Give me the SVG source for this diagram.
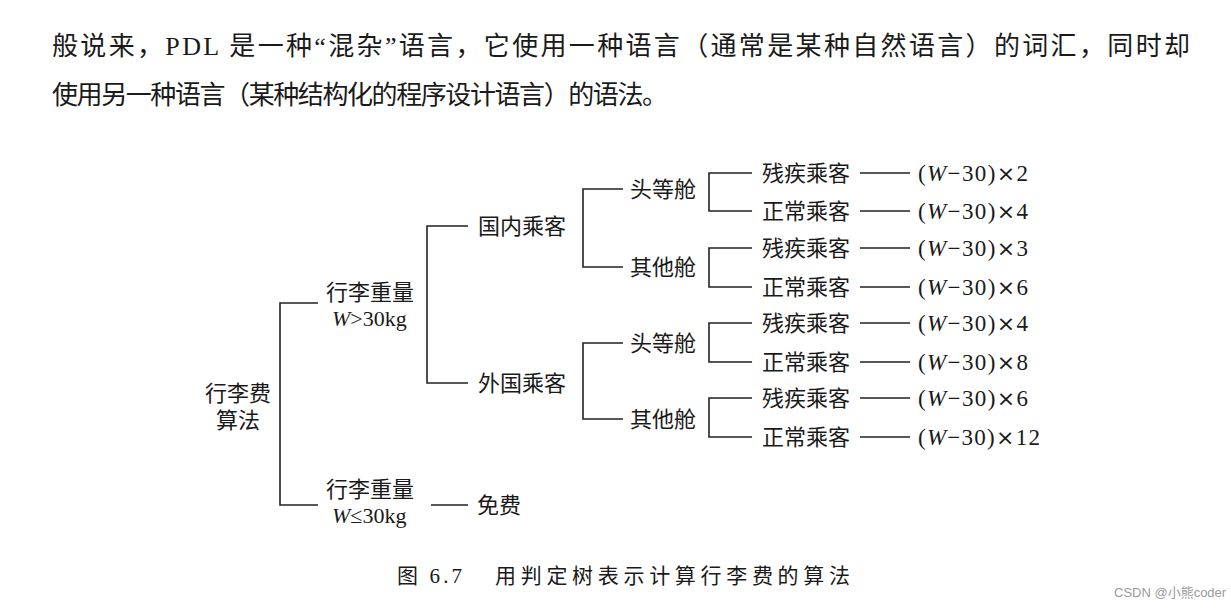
<svg xmlns="http://www.w3.org/2000/svg" width="1231" height="611" viewBox="0 0 1231 611">
<style>
text{font-family:"Liberation Serif","Noto Sans CJK SC",serif;fill:#1a1a1a}
.h{font-size:26px}
.t{font-size:22px}
.f{font-size:23px}
.x{font-family:"DejaVu Sans",sans-serif;font-size:22px}
.cap{font-size:21px}
.wm{font-family:"Liberation Sans","Noto Sans CJK SC",sans-serif;font-size:13px;fill:#9a9a9a}
.c{fill:none;stroke:#222;stroke-width:1.6}
</style>
<rect width="1231" height="611" fill="#fff"/>
<g id="header">
<text class="h" x="52" y="55" textLength="1138" lengthAdjust="spacing">般说来，PDL 是一种“混杂”语言，它使用一种语言（通常是某种自然语言）的词汇，同时却</text>
<text class="h" x="52" y="104" textLength="616" lengthAdjust="spacing">使用另一种语言（某种结构化的程序设计语言）的语法。</text>
</g>
<g id="connectors">
<path class="c" d="M318,303 H280 V505 H318"/>
<path class="c" d="M468,226 H427 V383 H468"/>
<path class="c" d="M431,505 H468"/>
<path class="c" d="M623,189 H583 V267 H623"/>
<path class="c" d="M623,343 H583 V419 H623"/>
<path class="c" d="M752,173 H709 V211 H752"/>
<path class="c" d="M752,248 H709 V287 H752"/>
<path class="c" d="M752,323 H709 V362 H752"/>
<path class="c" d="M752,398 H709 V437 H752"/>
<path class="c" d="M860,173 H910 M860,211 H910 M860,248 H910 M860,287 H910 M860,323 H910 M860,362 H910 M860,398 H910 M860,437 H910"/>
</g>
<g id="root"><text class="t" x="205" y="401">行李费</text><text class="t" x="216" y="428">算法</text></g>
<g id="heavy"><text class="t" x="326" y="300">行李重量</text><text class="t" x="332" y="326"><tspan font-style="italic">W</tspan>&gt;30kg</text></g>
<g id="light"><text class="t" x="326" y="497">行李重量</text><text class="t" x="332" y="523"><tspan font-style="italic">W</tspan>≤30kg</text></g>
<g id="free"><text class="t" x="477" y="513">免费</text></g>
<g id="domestic"><text class="t" x="478" y="234">国内乘客</text></g>
<g id="foreign"><text class="t" x="478" y="391">外国乘客</text></g>
<g id="d-first"><text class="t" x="630" y="197">头等舱</text></g>
<g id="d-other"><text class="t" x="630" y="275">其他舱</text></g>
<g id="f-first"><text class="t" x="630" y="351">头等舱</text></g>
<g id="f-other"><text class="t" x="630" y="427">其他舱</text></g>
<g id="leaf1"><text class="t" x="762" y="181">残疾乘客</text><text class="f" x="918" y="181" textLength="110" lengthAdjust="spacing">(<tspan font-style="italic">W</tspan>−30)<tspan class="x">×</tspan>2</text></g>
<g id="leaf2"><text class="t" x="762" y="219">正常乘客</text><text class="f" x="918" y="219" textLength="110" lengthAdjust="spacing">(<tspan font-style="italic">W</tspan>−30)<tspan class="x">×</tspan>4</text></g>
<g id="leaf3"><text class="t" x="762" y="256">残疾乘客</text><text class="f" x="918" y="256" textLength="110" lengthAdjust="spacing">(<tspan font-style="italic">W</tspan>−30)<tspan class="x">×</tspan>3</text></g>
<g id="leaf4"><text class="t" x="762" y="295">正常乘客</text><text class="f" x="918" y="295" textLength="110" lengthAdjust="spacing">(<tspan font-style="italic">W</tspan>−30)<tspan class="x">×</tspan>6</text></g>
<g id="leaf5"><text class="t" x="762" y="331">残疾乘客</text><text class="f" x="918" y="331" textLength="110" lengthAdjust="spacing">(<tspan font-style="italic">W</tspan>−30)<tspan class="x">×</tspan>4</text></g>
<g id="leaf6"><text class="t" x="762" y="370">正常乘客</text><text class="f" x="918" y="370" textLength="110" lengthAdjust="spacing">(<tspan font-style="italic">W</tspan>−30)<tspan class="x">×</tspan>8</text></g>
<g id="leaf7"><text class="t" x="762" y="406">残疾乘客</text><text class="f" x="918" y="406" textLength="110" lengthAdjust="spacing">(<tspan font-style="italic">W</tspan>−30)<tspan class="x">×</tspan>6</text></g>
<g id="leaf8"><text class="t" x="762" y="445">正常乘客</text><text class="f" x="918" y="445" textLength="122" lengthAdjust="spacing">(<tspan font-style="italic">W</tspan>−30)<tspan class="x">×</tspan>12</text></g>
<g id="caption"><text class="cap" x="397" y="583" textLength="65" lengthAdjust="spacing">图 6.7</text><text class="cap" x="495" y="583" textLength="355" lengthAdjust="spacing">用判定树表示计算行李费的算法</text></g>
<g id="watermark"><text class="wm" x="1114" y="597">CSDN @小熊coder</text></g>
</svg>
